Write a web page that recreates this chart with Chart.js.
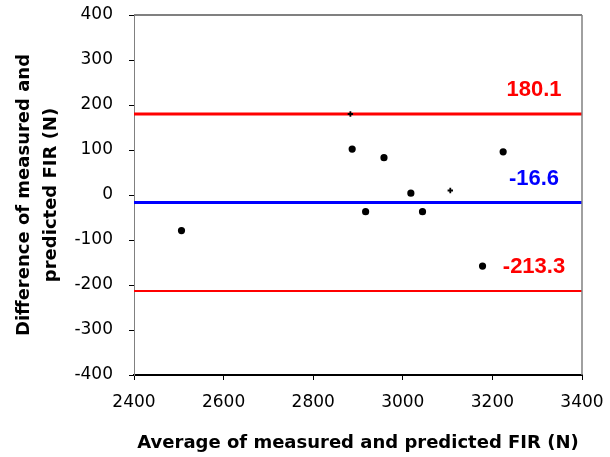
<!DOCTYPE html>
<html>
<head>
<meta charset="utf-8">
<script src="https://cdn.jsdelivr.net/npm/chart.js"></script>
<style>
  html, body { margin: 0; padding: 0; background: #fff; }
  #wrap { width: 610px; height: 457px; position: relative; }
</style>
</head>
<body>
<div id="wrap"><canvas id="baChart"></canvas></div>
<script>
// Bland-Altman data
const avgValues  = [2506, 2883, 2887, 2917, 2958, 3018, 3044, 3106, 3178, 3224];
const diffValues = [-79, 180, 102, -37, 83, 4, -37, 10, -158, 96];
const markerStyles = ['circle', 'cross', 'circle', 'circle', 'circle', 'circle', 'circle', 'cross', 'circle', 'circle'];

const upperLimit = 180.1;
const meanDiff = -16.6;
const lowerLimit = -213.3;

const xTicks = [2400, 2600, 2800, 3000, 3200, 3400];
const yTicks = [-400, -300, -200, -100, 0, 100, 200, 300, 400];

const points = avgValues.map((x, i) => ({ x: x, y: diffValues[i] }));
const hLine = v => [{ x: xTicks[0], y: v }, { x: xTicks[xTicks.length - 1], y: v }];

// grey frame on top and right, like the Excel plot area
const framePlugin = {
  id: 'frame',
  afterDraw(chart) {
    const { ctx, chartArea: a } = chart;
    ctx.save();
    ctx.strokeStyle = '#808080';
    ctx.lineWidth = 2;
    ctx.beginPath();
    ctx.moveTo(a.left, a.top);
    ctx.lineTo(a.right, a.top);
    ctx.stroke();
    ctx.lineWidth = 1.5;
    ctx.beginPath();
    ctx.moveTo(a.right, a.top);
    ctx.lineTo(a.right, a.bottom);
    ctx.stroke();
    ctx.restore();
  }
};

// value labels above the limit lines
const limitLabels = [
  { value: upperLimit, text: '180.1', color: '#ff0000' },
  { value: meanDiff, text: '-16.6', color: '#0000ff' },
  { value: lowerLimit, text: '-213.3', color: '#ff0000' }
];
const labelPlugin = {
  id: 'limitLabels',
  afterDatasetsDraw(chart) {
    const { ctx, chartArea: a, scales } = chart;
    ctx.save();
    ctx.font = 'bold 22px "Liberation Sans", Arial, sans-serif';
    ctx.textAlign = 'center';
    ctx.textBaseline = 'middle';
    limitLabels.forEach(l => {
      ctx.fillStyle = l.color;
      ctx.fillText(l.text, a.right - 48, scales.y.getPixelForValue(l.value) - 24);
    });
    ctx.restore();
  }
};

const tickFont = { family: '"DejaVu Sans", sans-serif', size: 17 };
const titleFont = { family: '"DejaVu Sans", sans-serif', size: 18, weight: 'bold' };

new Chart(document.getElementById('baChart'), {
  type: 'scatter',
  data: {
    datasets: [
      {
        label: 'Difference',
        data: points,
        backgroundColor: '#000',
        borderColor: '#000',
        borderWidth: 1.8,
        pointStyle: markerStyles,
        pointRadius: 2.7,
        order: 0
      },
      { type: 'line', label: 'Upper', data: hLine(upperLimit), borderColor: '#ff0000', borderWidth: 3, pointRadius: 0, order: 1 },
      { type: 'line', label: 'Mean', data: hLine(meanDiff), borderColor: '#0000ff', borderWidth: 3, pointRadius: 0, order: 1 },
      { type: 'line', label: 'Lower', data: hLine(lowerLimit), borderColor: '#ff0000', borderWidth: 2, pointRadius: 0, order: 1 }
    ]
  },
  options: {
    responsive: true,
    maintainAspectRatio: false,
    animation: false,
    layout: { padding: { top: 15, right: 28, left: 0, bottom: 0 } },
    plugins: {
      legend: { display: false },
      tooltip: { enabled: false }
    },
    scales: {
      x: {
        type: 'linear',
        min: 2400,
        max: 3400,
        afterBuildTicks: s => { s.ticks = xTicks.map(v => ({ value: v })); },
        afterFit: s => { s.height = 82; s.paddingLeft = 0; s.paddingRight = 0; },
        border: { color: '#000', width: 2 },
        grid: { drawOnChartArea: false, tickLength: 5, tickColor: '#000' },
        ticks: { color: '#000', padding: 12, font: tickFont, callback: v => String(v) },
        title: {
          display: true,
          text: 'Average of measured and predicted FIR (N)',
          color: '#000',
          padding: { top: 0, bottom: 3 },
          font: titleFont
        }
      },
      y: {
        type: 'linear',
        min: -400,
        max: 400,
        afterBuildTicks: s => { s.ticks = yTicks.map(v => ({ value: v })); },
        afterFit: s => { s.width = 134; s.paddingTop = 0; s.paddingBottom = 0; },
        border: { color: '#808080', width: 1 },
        grid: { drawOnChartArea: false, tickLength: 5, tickColor: '#000' },
        ticks: { color: '#000', padding: 16, font: tickFont, callback: v => String(v) },
        title: {
          display: true,
          text: ['Difference of measured and', 'predicted FIR (N)'],
          color: '#000',
          padding: { top: 11, bottom: 0 },
          font: Object.assign({}, titleFont, { lineHeight: 1.5 })
        }
      }
    }
  },
  plugins: [framePlugin, labelPlugin]
});
</script>
</body>
</html>
